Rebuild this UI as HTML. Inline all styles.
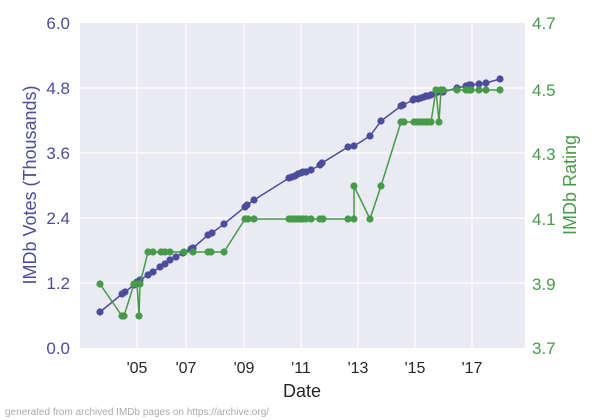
<!DOCTYPE html><html><head><style>body{margin:0;background:#fff}svg{display:block}</style></head><body>
<svg width="600" height="420" xmlns="http://www.w3.org/2000/svg" font-family="Liberation Sans, sans-serif">
<rect x="80" y="23" width="445" height="325" fill="#eaeaf2"/>
<g stroke="#fff" stroke-width="1.2">
<line x1="80" x2="525" y1="88" y2="88"/><line x1="80" x2="525" y1="153" y2="153"/><line x1="80" x2="525" y1="218" y2="218"/><line x1="80" x2="525" y1="283" y2="283"/>
<line x1="137" x2="137" y1="23" y2="348"/><line x1="186" x2="186" y1="23" y2="348"/><line x1="244" x2="244" y1="23" y2="348"/><line x1="301" x2="301" y1="23" y2="348"/><line x1="358" x2="358" y1="23" y2="348"/><line x1="415" x2="415" y1="23" y2="348"/><line x1="472" x2="472" y1="23" y2="348"/>
</g>
<polyline id="bl" fill="none" stroke="#4c4c9d" stroke-width="1.5"/>
<g id="b" fill="#4c4c9d"></g>
<polyline id="gl" fill="none" stroke="#479a4a" stroke-width="1.5"/>
<g id="g" fill="#479a4a"></g>
<g font-size="17" fill="#4c4c9d" text-anchor="end">
<text x="70" y="29">6.0</text><text x="70" y="94">4.8</text><text x="70" y="159">3.6</text><text x="70" y="224">2.4</text><text x="70" y="289">1.2</text><text x="70" y="354">0.0</text></g>
<g font-size="17" fill="#479a4a">
<text x="532" y="29">4.7</text><text x="532" y="96">4.5</text><text x="532" y="160">4.3</text><text x="532" y="225">4.1</text><text x="532" y="290">3.9</text><text x="532" y="354">3.7</text></g>
<g font-size="16" fill="#262626" text-anchor="middle">
<text x="137" y="373">'05</text><text x="186" y="373">'07</text><text x="244" y="373">'09</text><text x="301" y="373">'11</text><text x="358" y="373">'13</text><text x="415" y="373">'15</text><text x="472" y="373">'17</text>
<text x="302" y="397" font-size="18">Date</text></g>
<text transform="translate(36,185) rotate(-90)" font-size="18" fill="#4c4c9d" text-anchor="middle">IMDb Votes (Thousands)</text>
<text transform="translate(576,185) rotate(-90)" font-size="18" fill="#479a4a" text-anchor="middle">IMDb Rating</text>
<text x="5" y="415" font-size="10" fill="#aaa">generated from archived IMDb pages on https://archive.org/</text>
</svg>
<script>
var B=[[100,312],[122,294],[125,292],[134,285],[137,282],[140,280],[148,275],[153,272],[160,267],[165,264],[170,260],[176,257],[183,253],[191,249],[193,248],[208,235],[212,233],[224,224],[245,207],[247,205],[254,200],[289,178],[292,177],[295,176],[298,174],[301,173],[303,172],[306,172],[311,170],[320,165],[322,163],[348,147],[354,146],[370,136],[381,121],[401,106],[403,105],[413,100],[414,99],[418,99],[421,98],[424,97],[426,96],[428,96],[431,95],[436,93],[441,92],[443,92],[457,88],[466,86],[469,85],[471,85],[479,84],[486,83],[500,79]];
var G=[[100,284],[122,316],[124,316],[134,284],[137,284],[139,316],[140,284],[148,252],[153,252],[161,252],[165,252],[170,252],[184,252],[193,252],[208,252],[211,252],[224,252],[245,219],[248,219],[254,219],[289,219],[292,219],[295,219],[298,219],[301,219],[303,219],[306,219],[311,219],[320,219],[323,219],[348,219],[354,219],[354,186],[370,219],[381,186],[401,122],[404,122],[414,122],[417,122],[420,122],[423,122],[426,122],[428,122],[431,122],[436,90],[439,122],[441,90],[443,90],[457,90],[466,90],[469,90],[471,90],[479,90],[486,90],[500,90]];
function d(P,l,g){document.getElementById(l).setAttribute('points',P.map(p=>p.join(',')).join(' '));var s='';P.forEach(p=>{s+='<circle cx="'+p[0]+'" cy="'+p[1]+'" r="3.6"/>'});document.getElementById(g).innerHTML=s;}
d(B,'bl','b');d(G,'gl','g');
</script>
</body></html>
